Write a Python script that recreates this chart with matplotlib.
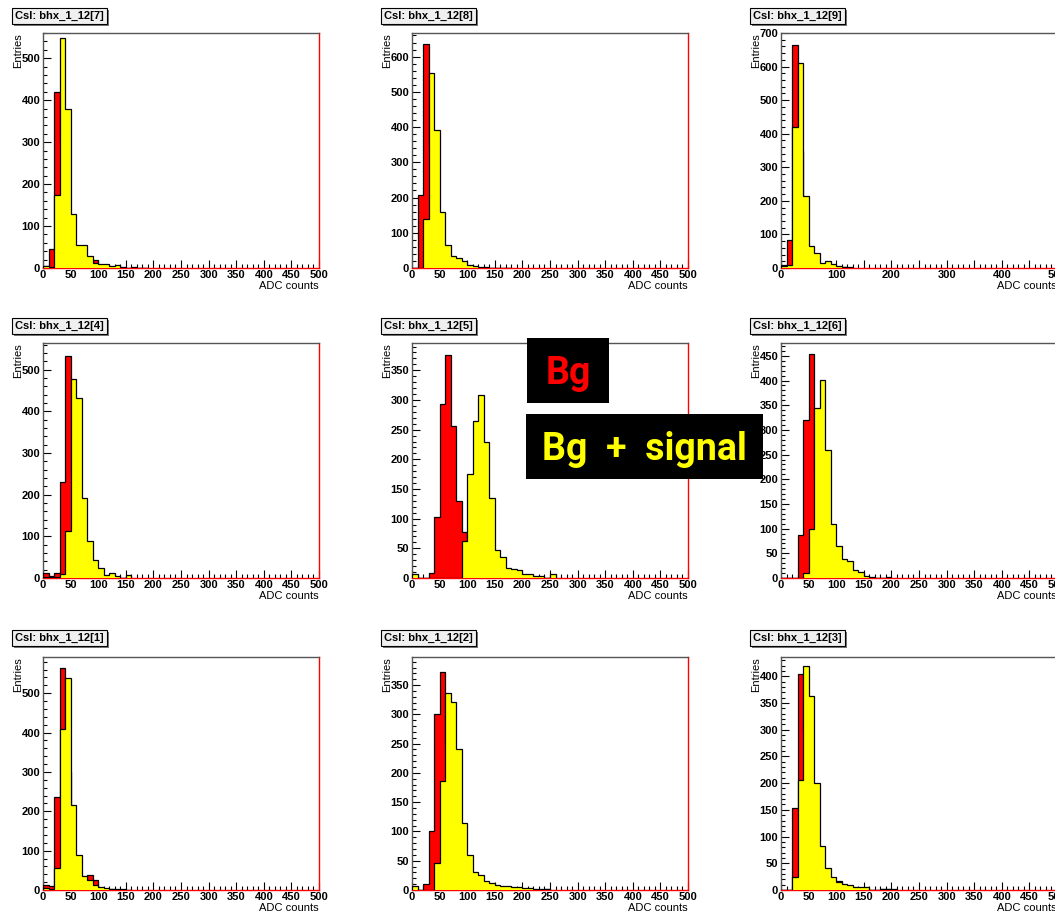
import numpy as np
import matplotlib.pyplot as plt
from matplotlib.ticker import MultipleLocator, FuncFormatter
from matplotlib.patches import Rectangle
import matplotlib.patheffects as pe

plt.rcParams['font.family'] = ['Liberation Sans', 'DejaVu Sans']
plt.rcParams['font.weight'] = 'bold'

edges = np.arange(0, 510, 10)  # 50 bins of 10 ADC counts

# Bg (red) and Bg + signal (yellow), entries per bin; missing bins are empty
bg_7 = [5, 45, 419, 300, 60, 15, 8, 5, 12, 19, 5, 3, 2, 1, 1]
sig_7 = [4, 2, 175, 548, 379, 129, 56, 56, 29, 13, 10, 10, 5, 7, 2, 1, 2, 0, 1]
bg_8 = [0, 208, 635, 350, 90, 20, 8, 5, 3, 2, 1]
sig_8 = [0, 0, 140, 553, 393, 159, 64, 33, 28, 21, 8, 5, 4, 2, 1, 1, 1, 1]
bg_9 = [8, 82, 665, 350, 60, 15, 8, 5, 5, 3, 2, 3]
sig_9 = [5, 8, 421, 610, 214, 65, 44, 14, 20, 12, 5, 3, 2]
bg_4 = [12, 4, 12, 231, 534, 250, 60, 15, 8, 5, 3, 2, 1]
sig_4 = [3, 2, 3, 10, 112, 478, 431, 193, 88, 44, 24, 8, 11, 5, 0, 8]
bg_5 = [2, 0, 0, 9, 103, 294, 376, 256, 129, 77, 20, 8, 4, 2, 1]
sig_5 = [6, 0, 0, 0, 0, 0, 0, 0, 0, 63, 175, 265, 308, 229, 134, 48, 36, 17, 16,
         13, 7, 7, 4, 3, 0, 6]
bg_6 = [0, 0, 0, 87, 320, 453, 200, 60, 15, 5, 2, 1]
sig_6 = [0, 0, 0, 0, 11, 100, 345, 402, 259, 109, 65, 39, 34, 16, 12, 4, 3, 1, 1, 2]
bg_1 = [13, 10, 236, 563, 300, 60, 20, 10, 38, 25, 5, 3, 2, 1]
sig_1 = [6, 3, 57, 410, 538, 215, 90, 35, 26, 13, 8, 5, 3, 3, 2, 1]
bg_2 = [2, 0, 11, 101, 300, 373, 250, 100, 25, 8, 3, 2, 1, 1, 0, 0, 0, 0, 0, 0,
        0, 0, 0, 0, 1]
sig_2 = [6, 0, 0, 0, 46, 186, 336, 321, 240, 114, 60, 30, 25, 16, 12, 8, 7, 6, 5,
         5, 4, 3, 2, 1, 2]
bg_3 = [0, 0, 153, 405, 300, 100, 30, 10, 5, 3, 17, 5, 3, 2, 1, 1, 0, 0, 1, 2, 2]
sig_3 = [0, 0, 25, 206, 420, 363, 201, 82, 42, 25, 15, 12, 9, 5, 5, 5, 0, 0, 1, 1]

names = ['CsI: bhx_1_12[7]', 'CsI: bhx_1_12[8]', 'CsI: bhx_1_12[9]',
         'CsI: bhx_1_12[4]', 'CsI: bhx_1_12[5]', 'CsI: bhx_1_12[6]',
         'CsI: bhx_1_12[1]', 'CsI: bhx_1_12[2]', 'CsI: bhx_1_12[3]']
bg = [bg_7, bg_8, bg_9, bg_4, bg_5, bg_6, bg_1, bg_2, bg_3]
sig = [sig_7, sig_8, sig_9, sig_4, sig_5, sig_6, sig_1, sig_2, sig_3]
ymax = [560, 667, 700, 564, 396, 476, 592, 398, 436]
ystep = [100, 100, 100, 100, 50, 50, 100, 50, 50]
xlab_step = [50, 50, 100, 50, 50, 50, 50, 50, 50]

W, H = 1055, 914
fig = plt.figure(figsize=(W / 100, H / 100), dpi=100)

lefts = [43, 412, 781]
tops = [33, 343, 657]
bottoms = [268, 578, 890]
title_y = [16, 326, 638]


def pad(v):
    return np.array(list(v) + [0] * (50 - len(v)), float)


for i in range(9):
    r, c = divmod(i, 3)
    l, t, b = lefts[c], tops[r], bottoms[r]
    ax = fig.add_axes([l / W, 1 - b / H, 276 / W, (b - t) / H])

    red = pad(bg[i])
    yel = pad(sig[i])
    n = max(np.nonzero(red)[0].max(), np.nonzero(yel)[0].max()) + 1
    ax.stairs(red[:n], edges[:n + 1], fill=True, facecolor='#ff0000',
              edgecolor='black', linewidth=0.9, zorder=3)
    ax.stairs(yel[:n], edges[:n + 1], fill=True, facecolor='#ffff00',
              edgecolor='black', linewidth=0.9, zorder=3)

    ax.set_xlim(0, 500)
    ax.set_ylim(0, ymax[i])
    ax.yaxis.set_major_locator(MultipleLocator(ystep[i]))
    ax.yaxis.set_minor_locator(MultipleLocator(ystep[i] / 5))
    ax.xaxis.set_major_locator(MultipleLocator(50))
    ax.xaxis.set_minor_locator(MultipleLocator(10))
    step = xlab_step[i]
    ax.xaxis.set_major_formatter(FuncFormatter(
        lambda v, p, s=step: '%d' % v if round(v) % s == 0 else ''))

    ax.tick_params(which='both', direction='in', color='black', width=0.8,
                   labelsize=8, top=False, right=False)
    ax.tick_params(which='major', length=5.5)
    ax.tick_params(which='minor', length=2.8)
    ax.tick_params(axis='y', pad=2)
    ax.tick_params(axis='x', pad=1.5)

    for s in ['top', 'left']:
        ax.spines[s].set_color('#555555')
    ax.spines['right'].set_color('#ff0000')
    ax.spines['bottom'].set_color('#ff0000')
    for s in ax.spines.values():
        s.set_linewidth(1)

    ax.set_ylabel('Entries', fontsize=8, loc='top')
    ax.yaxis.set_label_coords(-20 / 276, 1)
    ax.set_xlabel('ADC counts', fontsize=8, loc='right')
    ax.xaxis.set_label_coords(1, -13 / (b - t))

    tt = fig.text((l - 28) / W, 1 - title_y[r] / H, names[i], ha='left',
                  va='center', fontsize=8,
                  bbox=dict(boxstyle='square,pad=0.3', fc='#f0f0f0',
                            ec='black', lw=0.8))
    tt.get_bbox_patch().set_path_effects(
        [pe.SimplePatchShadow(offset=(1.5, -1.5), shadow_rgbFace='#777777',
                              alpha=1), pe.Normal()])

# annotation boxes over the middle row
fig.add_artist(Rectangle((527 / W, 1 - 403 / H), 82 / W, 65 / H,
                         transform=fig.transFigure, fc='black', ec='none',
                         zorder=10))
fig.text(568 / W, 1 - 374 / H, 'Bg', color='#ff0000', fontsize=27,
         family='Roboto', weight='bold', ha='center', va='center', zorder=11)
fig.add_artist(Rectangle((526 / W, 1 - 479 / H), 237 / W, 65 / H,
                         transform=fig.transFigure, fc='black', ec='none',
                         zorder=10))
fig.text(644 / W, 1 - 449 / H, 'Bg  +  signal', color='#ffff00', fontsize=27,
         family='Roboto', weight='bold', ha='center', va='center', zorder=11)

fig.savefig('out.png', dpi=100, facecolor='white')
